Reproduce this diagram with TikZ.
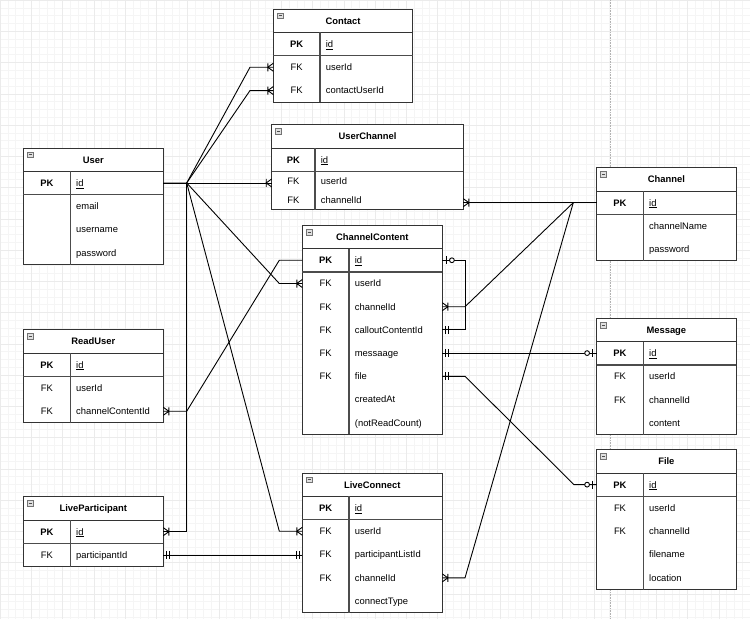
\documentclass[tikz,border=0pt]{standalone}
\usepackage{fontspec}
\setmainfont{Liberation Sans}
\usetikzlibrary{decorations.markings,calc}

\newcommand\erfont{\fontsize{9.4}{11}\selectfont}
\newcommand\mkMany{\draw[mkr] (5.5,-4)--(5.5,4) (0,-4)--(5.5,0)--(0,4);}
\newcommand\mkZeroOne{\draw[mkr] (4.5,-4)--(4.5,4); \draw[mkr,fill=white] (9.6,0) circle[radius=2.4pt];}
\newcommand\mkMandOne{\draw[mkr] (3,-4)--(3,4) (5.8,-4)--(5.8,4);}

\tikzset{
  hdrtext/.style={font=\erfont\bfseries, inner sep=0pt, anchor=base},
  keytext/.style={font=\erfont, inner sep=0pt, anchor=base},
  pktext/.style={font=\erfont\bfseries, inner sep=0pt, anchor=base},
  fieldtext/.style={font=\erfont, inner sep=0pt, anchor=base west},
  rowbox/.style={inner sep=0pt, outer sep=0pt, draw=none, anchor=north west},
  tblfill/.style={fill=white, draw=none},
  tblout/.style={draw=black!80, line width=1pt},
  tbldiv/.style={draw=black!70, line width=1.6pt},
  iconbox/.style={draw=black!55, fill=black!12, line width=0.6pt},
  iconline/.style={draw=black!70, line width=0.7pt},
  conn/.style={draw=black, line width=0.9pt},
  mkr/.style={draw=black, line width=0.9pt},
  gridminor/.style={draw=black!4, line width=0.4pt},
  gridmajor/.style={draw=black!8, line width=0.5pt},
  pagebreak/.style={draw=black!30, line width=0.6pt, densely dotted},
  sMany/.style={postaction={decorate,decoration={markings,mark=at position 0 with {\mkMany}}}},
  eMany/.style={postaction={decorate,decoration={markings,mark=at position 1 with {\begin{scope}[xscale=-1]\mkMany\end{scope}}}}},
  sZeroOne/.style={postaction={decorate,decoration={markings,mark=at position 0 with {\mkZeroOne}}}},
  eZeroOne/.style={postaction={decorate,decoration={markings,mark=at position 1 with {\begin{scope}[xscale=-1]\mkZeroOne\end{scope}}}}},
  sMandOne/.style={postaction={decorate,decoration={markings,mark=at position 0 with {\mkMandOne}}}},
  eMandOne/.style={postaction={decorate,decoration={markings,mark=at position 1 with {\begin{scope}[xscale=-1]\mkMandOne\end{scope}}}}},
}

% #1 name, #2 left, #3 top, #4 width, #5 key column width, #6 row height,
% #7 title, #8 number of rows after PK, #9 rows key/field/name
\newcommand\ertable[9]{%
  \pgfmathsetmacro\erBot{#3+46.6+#6*#8}%
  \fill[tblfill] (#2,#3) rectangle (#2+#4,\erBot);
  \node[hdrtext] (#1-hdr) at (#2+#4/2,#3+11.65+3.4) {#7};
  \draw[iconbox] (#2+4,#3+4) rectangle ++(6,5.5);
  \draw[iconline] (#2+5.3,#3+6.75) -- ++(3.4,0);
  \node[rowbox, minimum width=#4pt, minimum height=23.3pt] (#1-id) at (#2,#3+23.3) {};
  \node[pktext] at (#2+#5/2,#3+23.3+11.65+3.4) {PK};
  \node[fieldtext] at (#2+#5+5.7,#3+23.3+11.65+3.4) {\underline{id}};
  \foreach \k/\f/\nm [count=\i] in {#9} {
    \pgfmathsetmacro\erY{#3+46.6+#6*(\i-1)}
    \node[rowbox, minimum width=#4pt, minimum height=#6pt] (#1-\nm) at (#2,\erY) {};
    \node[keytext] at (#2+#5/2,\erY+#6/2+3.4) {\k};
    \node[fieldtext] at (#2+#5+5.7,\erY+#6/2+3.4) {\f};
  }
  \draw[tblout] (#2,#3) rectangle (#2+#4,\erBot);
  \draw[tblout] (#2,#3+23.3) -- ++(#4,0);
  \draw[tbldiv] (#2,#3+46.6) -- ++(#4,0);
  \draw[tbldiv] (#2+#5,#3+23.3) -- (#2+#5,\erBot);
}

\begin{document}
\begin{tikzpicture}[x=1pt,y=-1pt]
\useasboundingbox (0,0) rectangle (750,619);
\fill[white] (0,0) rectangle (750,619);
\draw[gridminor, step=7.8125pt] (0,0) grid (750,619);
\draw[gridmajor, step=31.25pt] (0,0) grid (750,619);
\draw[pagebreak] (610.5,0) -- (610.5,619);

\ertable{Contact}{273.3}{9}{139.4}{46.7}{23.3}{Contact}{2}{FK/userId/userId, FK/contactUserId/contactUserId}
\ertable{UserChannel}{271.7}{124.7}{191.6}{43.3}{19.2}{UserChannel}{2}{FK/userId/userId, FK/channelId/channelId}
\ertable{User}{23.3}{148}{140}{47}{23.3}{User}{3}{{}/email/email, {}/username/username, {}/password/password}
\ertable{Channel}{596.7}{167.7}{139.3}{46.6}{23.3}{Channel}{2}{{}/channelName/channelName, {}/password/password}
\ertable{ChannelContent}{302.3}{225.3}{140}{46.7}{23.2}{ChannelContent}{7}{FK/userId/userId, FK/channelId/channelId, FK/calloutContentId/calloutContentId, FK/messaage/messaage, FK/file/file, {}/createdAt/createdAt, {}/{(notReadCount)}/nrc}
\ertable{ReadUser}{23.3}{329.7}{140}{47}{23.3}{ReadUser}{2}{FK/userId/userId, FK/channelContentId/channelContentId}
\ertable{Message}{596.7}{318.3}{139.3}{46.6}{23.3}{Message}{3}{FK/userId/userId, FK/channelId/channelId, {}/content/content}
\ertable{File}{596.7}{449.7}{139.3}{46.6}{23.3}{File}{4}{FK/userId/userId, FK/channelId/channelId, {}/filename/filename, {}/location/location}
\ertable{LiveParticipant}{23.3}{496.7}{140}{47}{23.3}{LiveParticipant}{1}{FK/participantId/participantId}
\ertable{LiveConnect}{302.3}{473}{140}{46.7}{23.3}{LiveConnect}{4}{FK/userId/userId, FK/participantListId/participantListId, FK/channelId/channelId, {}/connectType/connectType}

\coordinate (hubU) at ([xshift=23.4pt]User-id.east);
\coordinate (hubC) at ([xshift=-23.4pt]Channel-id.west);
\coordinate (ccR) at ([xshift=22.7pt]ChannelContent-id.east);

% User relations
\draw[conn,eMany] (User-id.east) -- (hubU) -- ([xshift=-23.3pt]Contact-userId.west) -- (Contact-userId.west);
\draw[conn,eMany] (hubU) -- ([xshift=-23.3pt]Contact-contactUserId.west) -- (Contact-contactUserId.west);
\draw[conn,eMany] (User-id.east) -- (UserChannel-userId.west |- User-id.east);
\draw[conn,eMany] (hubU) -- ([xshift=-23pt]ChannelContent-userId.west) -- (ChannelContent-userId.west);
\draw[conn,eMany] (hubU) -- ([xshift=-23pt]LiveConnect-userId.west) -- (LiveConnect-userId.west);
\draw[conn,eMany] (hubU) -- (hubU |- LiveParticipant-id.east) -- (LiveParticipant-id.east);

% Channel relations
\draw[conn,eMany] (Channel-id.west) -- (UserChannel-channelId.east |- Channel-id.west);
\draw[conn,eMany] (hubC) -- ([xshift=22.7pt]ChannelContent-channelId.east) -- (ChannelContent-channelId.east);
\draw[conn,eMany] (hubC) -- ([xshift=22.7pt]LiveConnect-channelId.east) -- (LiveConnect-channelId.east);

% ChannelContent relations
\draw[conn,sZeroOne,eMandOne] (ChannelContent-id.east) -- (ccR) -- (ccR |- ChannelContent-calloutContentId.east) -- (ChannelContent-calloutContentId.east);
\draw[conn,sMandOne,eZeroOne] (ChannelContent-messaage.east) -- (Message-id.west |- ChannelContent-messaage.east);
\draw[conn,sMandOne,eZeroOne] (ChannelContent-file.east) -- ([xshift=22.7pt]ChannelContent-file.east) -- ([xshift=-22.7pt]File-id.west) -- (File-id.west);
\draw[conn,sMany] (ReadUser-channelContentId.east) -- ([xshift=23.4pt]ReadUser-channelContentId.east) -- ([xshift=-23pt]ChannelContent-id.west) -- (ChannelContent-id.west);

% LiveParticipant relation
\draw[conn,sMandOne,eMandOne] (LiveParticipant-participantId.east) -- (LiveConnect-participantListId.west |- LiveParticipant-participantId.east);
\end{tikzpicture}
\end{document}
